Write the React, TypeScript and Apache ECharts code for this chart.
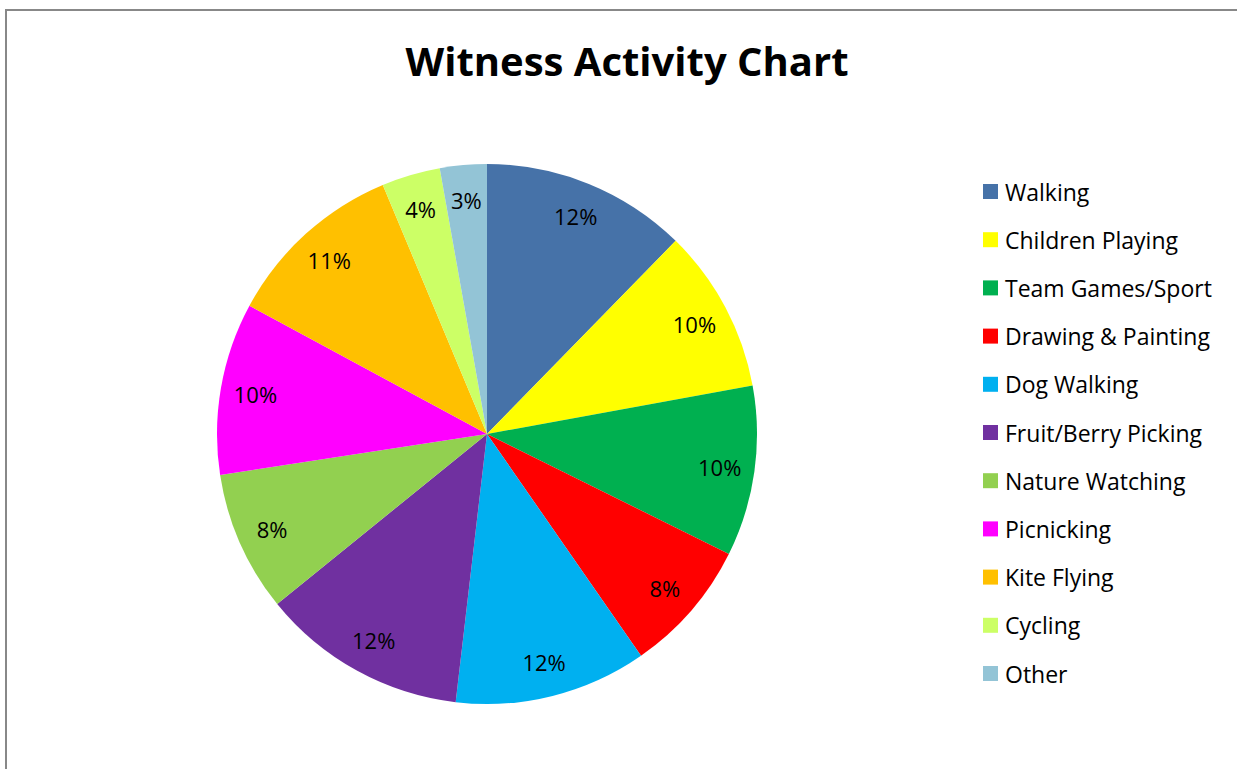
import React, { useEffect, useRef } from "react";
import * as echarts from "echarts";

const categories = [
  "Walking",
  "Children Playing",
  "Team Games/Sport",
  "Drawing & Painting",
  "Dog Walking",
  "Fruit/Berry Picking",
  "Nature Watching",
  "Picnicking",
  "Kite Flying",
  "Cycling",
  "Other",
];
const values = [12.3, 9.8, 10.2, 8.0, 11.5, 12.3, 8.4, 10.3, 10.8, 3.5, 2.8];
const colors = [
  "#4672A8",
  "#FFFF00",
  "#00B050",
  "#FF0000",
  "#00B0F0",
  "#7030A0",
  "#92D050",
  "#FF00FF",
  "#FFC000",
  "#CCFF66",
  "#93C4D6",
];

const FONT = "'Open Sans', Lato, sans-serif";

export default function App() {
  const ref = useRef<HTMLDivElement>(null);
  useEffect(() => {
    if (!ref.current) return;
    const chart = echarts.init(ref.current, undefined, { renderer: "svg" });
    const total = values.reduce((a, b) => a + b, 0);
    const data = categories.map((name, i) => ({
      name,
      value: values[i],
      itemStyle: { color: colors[i] },
    }));
    chart.setOption({
      animation: false,
      backgroundColor: "#ffffff",
      title: {
        text: "Witness Activity Chart",
        left: 622,
        textAlign: "center",
        top: 35,
        textStyle: {
          fontFamily: FONT,
          fontWeight: "bold",
          fontSize: 40,
          color: "#000",
        },
      },
      legend: {
        orient: "vertical",
        left: 978,
        top: 175,
        icon: "rect",
        itemWidth: 15,
        itemHeight: 15,
        itemGap: 25.2,
        data: categories,
        selectedMode: false,
        textStyle: {
          fontFamily: FONT,
          fontSize: 23,
          lineHeight: 22,
          color: "#000",
          padding: [0, 0, 0, 2],
        },
      },
      graphic: [
        {
          type: "rect",
          shape: { x: 6, y: 10, width: 1300, height: 900 },
          style: { fill: "none", stroke: "#888888", lineWidth: 2 },
          silent: true,
        },
      ],
      series: [
        {
          type: "pie",
          center: [487, 434],
          radius: [0, 270],
          startAngle: 90,
          clockwise: true,
          data,
          label: { show: false },
          labelLine: { show: false },
          silent: true,
        },
        {
          type: "pie",
          center: [487, 434],
          radius: [194, 270],
          startAngle: 90,
          clockwise: true,
          data: categories.map((name, i) => ({
            name,
            value: values[i],
            itemStyle: { color: "rgba(0,0,0,0)" },
          })),
          label: {
            show: true,
            position: "inside",
            fontFamily: FONT,
            fontSize: 22,
            color: "#000",
            formatter: (p: any) => Math.round((p.value / total) * 100) + "%",
          },
          labelLine: { show: false },
          silent: true,
        },
      ],
    });
    return () => chart.dispose();
  }, []);
  return (
    <div
      ref={ref}
      style={{ position: "fixed", left: 0, top: 0, width: 1237, height: 769 }}
    />
  );
}
